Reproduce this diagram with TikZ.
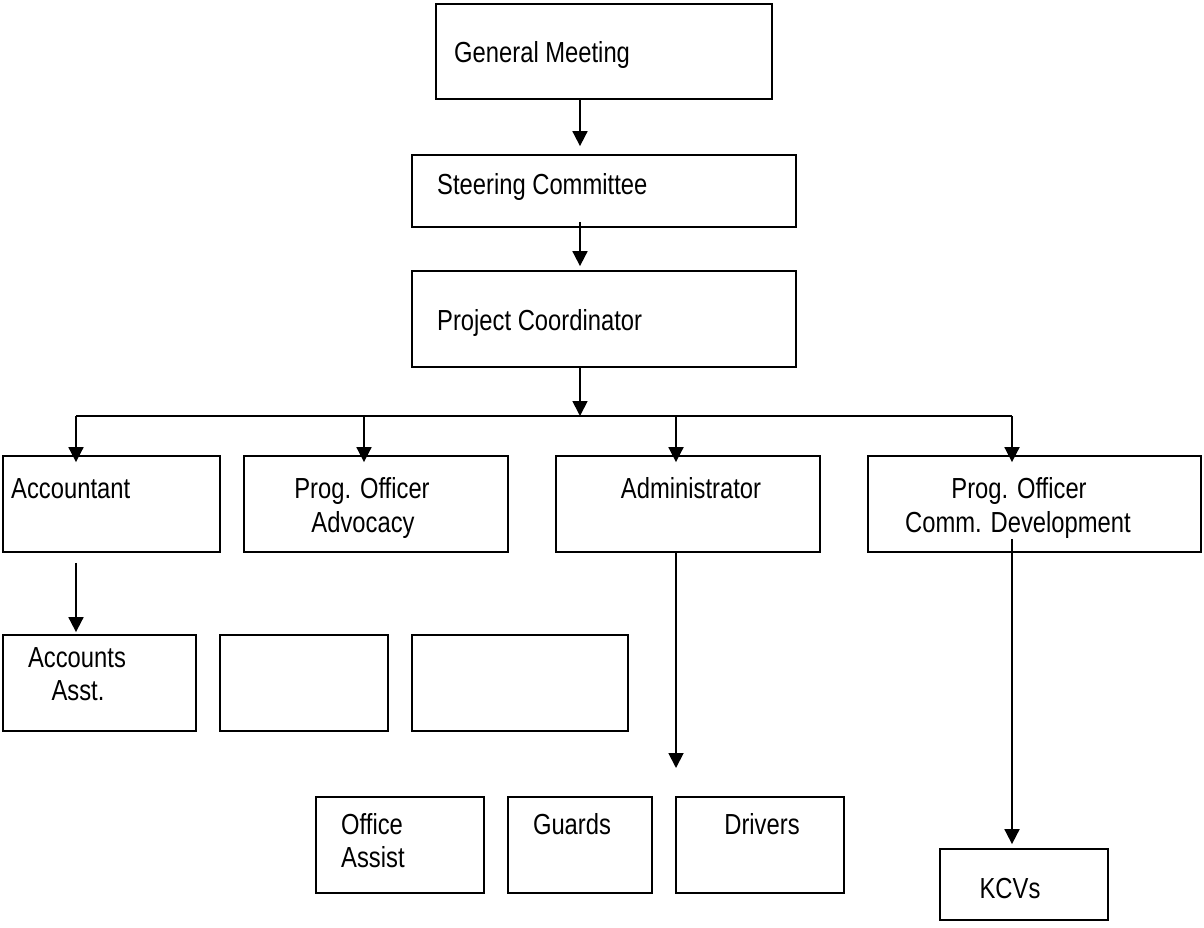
\documentclass[tikz,border=0pt]{standalone}
\usepackage{fontspec}
\setmainfont[FakeStretch=0.82]{Liberation Sans}
\usetikzlibrary{arrows.meta}
\begin{document}
\begin{tikzpicture}[x=1pt,y=-1pt,
  box/.style={draw, line width=1.8pt, inner sep=0pt, anchor=center},
  txt/.style={inner sep=0pt, font=\fontsize{29}{34}\selectfont},
  conn/.style={line width=1.8pt},
  arr/.style={line width=1.8pt, -{Triangle[width=15pt,length=15pt]}}]
\useasboundingbox (0,0) rectangle (1204,927);

% boxes
\node[box, minimum width=336pt, minimum height=95pt] (gm) at (604,51.5) {};
\node[box, minimum width=384pt, minimum height=72pt] (sc) at (604,191) {};
\node[box, minimum width=384pt, minimum height=96pt] (pc) at (604,319) {};

\node[box, minimum width=217pt, minimum height=96pt] (acc) at (111.5,504) {};
\node[box, minimum width=264pt, minimum height=96pt] (adv) at (376,504) {};
\node[box, minimum width=264pt, minimum height=96pt] (adm) at (688,504) {};
\node[box, minimum width=333pt, minimum height=96pt] (com) at (1034.5,504) {};

\node[box, minimum width=193pt, minimum height=96pt] (aas) at (99.5,683) {};
\node[box, minimum width=168pt, minimum height=96pt] (e1) at (304,683) {};
\node[box, minimum width=216pt, minimum height=96pt] (e2) at (520,683) {};

\node[box, minimum width=168pt, minimum height=96pt] (oa) at (400,845) {};
\node[box, minimum width=144pt, minimum height=96pt] (gu) at (580,845) {};
\node[box, minimum width=168pt, minimum height=96pt] (dr) at (760,845) {};
\node[box, minimum width=168pt, minimum height=71pt] (kcv) at (1024,884.5) {};

% texts
\node[txt, anchor=base west] (gmT) at (454,62) {General Meeting};
\node[txt, anchor=base west] (scT) at (437,194) {Steering Committee};
\node[txt, anchor=base west] (pcT) at (437,330) {Project Coordinator};
\node[txt, anchor=base west] (accT) at (11,498) {Accountant};
\node[txt, anchor=base] (advT1) at (362,498) {Prog. Officer};
\node[txt, anchor=base] (advT2) at (363,532) {Advocacy};
\node[txt, anchor=base] (admT) at (691,498) {Administrator};
\node[txt, anchor=base] (comT1) at (1019,498) {Prog. Officer};
\node[txt, anchor=base] (comT2) at (1018,532) {Comm. Development};
\node[txt, anchor=base] (aasT1) at (77,667) {Accounts};
\node[txt, anchor=base] (aasT2) at (78,700) {Asst.};
\node[txt, anchor=base west] (oaT1) at (341,834) {Office};
\node[txt, anchor=base west] (oaT2) at (341,867) {Assist};
\node[txt, anchor=base] (guT) at (572,834) {Guards};
\node[txt, anchor=base] (drT) at (762,834) {Drivers};
\node[txt, anchor=base] (kcvT) at (1010,898) {KCVs};

% coordinates
\coordinate (ax) at (580,0);
\coordinate (bus) at (580,416);
\coordinate (b1) at (76,416);
\coordinate (b2) at (364,416);
\coordinate (b3) at (676,416);
\coordinate (b4) at (1012,416);
\coordinate (admEnd) at (676,768);

% connectors
\draw[arr, shorten >=8pt] (gm.south -| ax) -- (sc.north -| ax);
\draw[arr, shorten <=-6pt, shorten >=4pt] (sc.south -| ax) -- (pc.north -| ax);
\draw[arr] (pc.south -| ax) -- (bus);
\draw[conn] (b1) -- (b4);
\draw[arr, shorten >=-7pt] (b1) -- (acc.north -| b1);
\draw[arr, shorten >=-7pt] (b2) -- (adv.north -| b2);
\draw[arr, shorten >=-7pt] (b3) -- (adm.north -| b3);
\draw[arr, shorten >=-7pt] (b4) -- (com.north -| b4);
\draw[arr, shorten <=10pt, shorten >=2pt] (acc.south -| b1) -- (aas.north -| b1);
\draw[arr] (adm.south -| b3) -- (admEnd);
\draw[arr, shorten <=-14pt, shorten >=4pt] (com.south -| b4) -- (kcv.north -| b4);
\end{tikzpicture}
\end{document}
